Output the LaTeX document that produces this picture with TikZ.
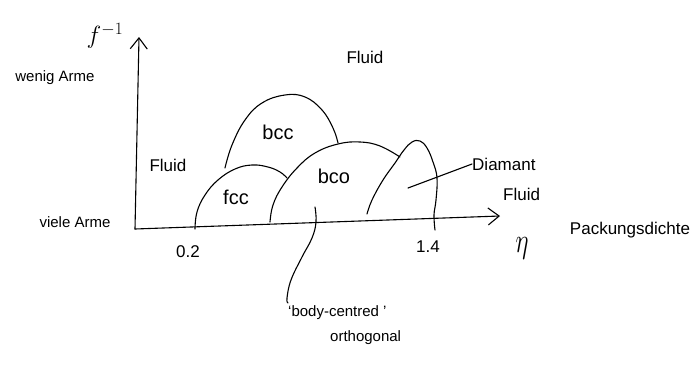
\documentclass[tikz,border=0pt]{standalone}
\usepackage{fontspec}
\setmainfont{Liberation Sans}
\usetikzlibrary{arrows.meta}
\begin{document}
\begin{tikzpicture}[x=1pt,y=-1pt,
  pen/.style={line width=1.1pt,line cap=round,line join=round,black},
  lbl/.style={font=\fontsize{17}{19}\selectfont,inner sep=0pt},
  small/.style={lbl,font=\fontsize{15}{17}\selectfont},
  axarrow/.style={pen,-{Straight Barb[length=11pt,width=17pt,line width=1.1pt]}}]
\useasboundingbox (0,0) rectangle (699,365);
% axes
\coordinate (O) at (135,229);
\coordinate (ytip) at (139,37);
\coordinate (xtip) at (500,216);
\draw[axarrow] (O) -- (ytip);
\draw[axarrow] (O) -- (xtip);
% axis labels
\node[lbl,font=\fontsize{26}{28}\selectfont] (finv) at (105,36) {$f^{-1}$};
\node[small] (wenig) at (55,78) {wenig Arme};
\node[small] (viele) at (75,222) {viele Arme};
\node[lbl] (t02) at (188,252) {0.2};
\node[lbl] (t14) at (428,247) {1.4};
\node[lbl] (eta) at (522,248) {\fontsize{40}{40}\selectfont\scalebox{1}[1.4]{$\eta$}};
\node[lbl] (pack) at (630,230) {Packungsdichte};
% phase regions
\node[lbl] (fluidtop) at (365,57) {Fluid};
\node[lbl] (fluidleft) at (168,165) {Fluid};
\node[lbl,font=\fontsize{20}{22}\selectfont] (bcc) at (278,132) {bcc};
\node[lbl,font=\fontsize{20}{22}\selectfont] (fcc) at (236,197) {fcc};
\node[lbl,font=\fontsize{20}{22}\selectfont] (bco) at (334,176) {bco};
\node[lbl,anchor=west] (diamant) at (472,164) {Diamant};
\node[lbl,anchor=west] (fluidr) at (503,194) {Fluid};
% domes
\draw[pen] plot[smooth,tension=0.7] coordinates {(195,229) (197,212) (205,195) (218,180) (235,169) (252,165) (268,167) (280,172) (287,178)};
\draw[pen] plot[smooth,tension=0.7] coordinates {(225,168) (232,145) (245,120) (262,103) (285,95) (305,97) (322,110) (333,128) (338,143)};
\draw[pen] plot[smooth,tension=0.7] coordinates {(270,222) (273,205) (282,187) (297,168) (315,153) (338,144) (360,142) (380,146) (400,157)};
\draw[pen] plot[smooth,tension=0.7] coordinates {(367,214) (372,200) (383,180) (395,163) (404,150) (412,142) (420,141) (427,148) (433,162) (437,178) (436,200) (434,215) (435,230)};
% annotations
\coordinate (dpt) at (408,188);
\draw[pen] (dpt) -- (diamant.west);
\coordinate (bcopt) at (315,207);
\node[small,anchor=north west] (body) at (288,305) {`body-centred '};
\node[small,anchor=north west] (ortho) at (330,330) {orthogonal};
\draw[pen] plot[smooth,tension=0.7] coordinates {(bcopt) (316,222) (312,238) (302,257) (291,280) (287,298) (288,303)};
\end{tikzpicture}
\end{document}
